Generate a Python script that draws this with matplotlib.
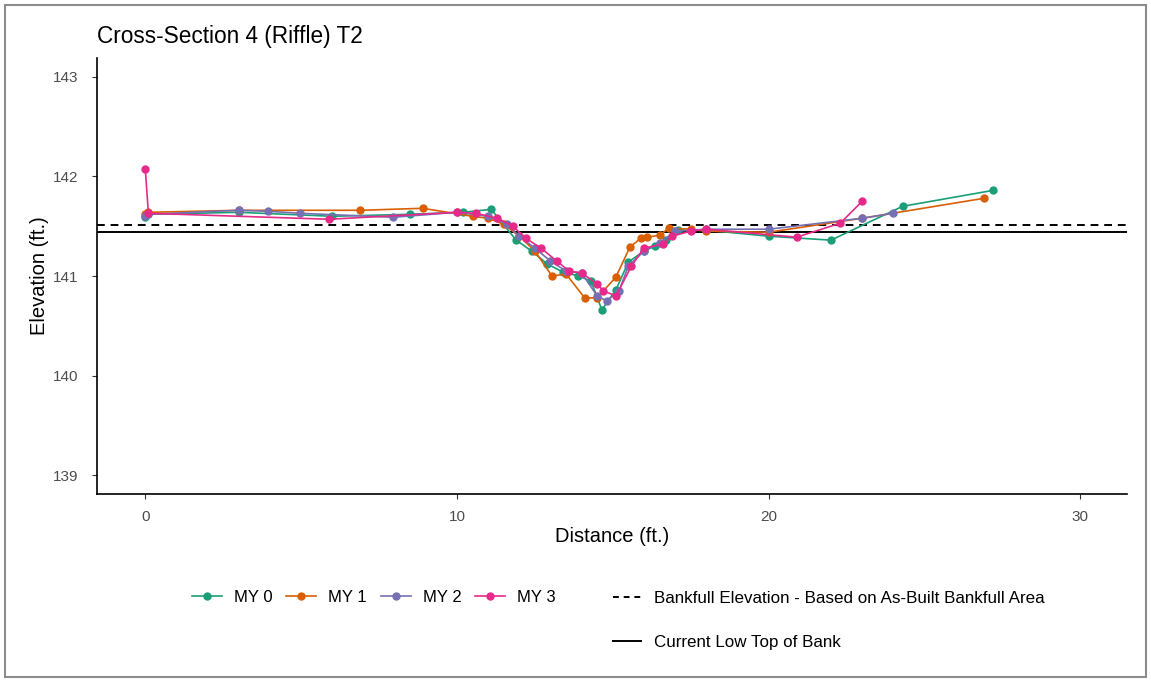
import matplotlib.pyplot as plt
from matplotlib.lines import Line2D
from matplotlib.patches import Rectangle

plt.rcParams['font.family'] = ['Liberation Sans', 'DejaVu Sans']

# Datos de las secciones (distancia en ft, elevación en ft)
my0_x = [0.0, 0.1, 3.0, 6.0, 8.5, 10.2, 11.1, 11.9, 12.4, 12.9, 13.4, 13.9, 14.3, 14.65, 15.1, 15.5, 16.0, 16.35, 16.7, 17.1, 18.0, 20.0, 22.0, 24.3, 27.2]
my0_y = [141.59, 141.62, 141.64, 141.60, 141.62, 141.64, 141.67, 141.36, 141.25, 141.12, 141.04, 141.00, 140.95, 140.66, 140.86, 141.14, 141.25, 141.30, 141.36, 141.46, 141.46, 141.40, 141.36, 141.70, 141.86]

my1_x = [0.0, 0.1, 3.0, 6.9, 8.9, 10.5, 11.0, 11.5, 12.0, 12.5, 13.05, 13.5, 14.1, 14.5, 15.1, 15.55, 15.9, 16.1, 16.5, 16.8, 17.5, 18.0, 20.0, 23.0, 26.9]
my1_y = [141.62, 141.64, 141.66, 141.66, 141.68, 141.60, 141.58, 141.52, 141.40, 141.25, 141.00, 141.02, 140.78, 140.78, 140.99, 141.29, 141.38, 141.39, 141.41, 141.48, 141.47, 141.45, 141.44, 141.58, 141.78]

my2_x = [0.0, 0.1, 3.0, 3.95, 4.97, 7.95, 10.0, 11.0, 11.6, 12.0, 12.5, 13.0, 13.5, 14.0, 14.5, 14.8, 15.2, 15.5, 16.0, 16.5, 17.0, 18.0, 20.0, 23.0, 24.0]
my2_y = [141.60, 141.62, 141.66, 141.65, 141.63, 141.59, 141.64, 141.60, 141.52, 141.40, 141.28, 141.15, 141.05, 141.03, 140.80, 140.75, 140.85, 141.10, 141.25, 141.33, 141.45, 141.47, 141.47, 141.58, 141.63]

my3_x = [0.0, 0.1, 5.9, 10.0, 10.6, 11.3, 11.8, 12.2, 12.7, 13.2, 13.6, 14.0, 14.5, 14.7, 15.1, 15.6, 16.0, 16.6, 16.9, 17.5, 18.0, 20.9, 22.3, 23.0]
my3_y = [142.07, 141.63, 141.57, 141.64, 141.63, 141.58, 141.50, 141.38, 141.28, 141.15, 141.05, 141.03, 140.92, 140.85, 140.80, 141.10, 141.28, 141.32, 141.40, 141.45, 141.47, 141.39, 141.53, 141.75]

bankfull = 141.51
low_top_bank = 141.44

series = [
    ('MY 0', my0_x, my0_y, '#1B9E77'),
    ('MY 1', my1_x, my1_y, '#D95F02'),
    ('MY 2', my2_x, my2_y, '#7570B3'),
    ('MY 3', my3_x, my3_y, '#E7298A'),
]

fig = plt.figure(figsize=(11.51, 6.81), dpi=100)
ax = fig.add_axes([97 / 1151, 1 - 494 / 681, (1127 - 97) / 1151, (494 - 58) / 681])

ax.axhline(bankfull, color='black', linestyle=(0, (4, 3)), linewidth=1.4)
ax.axhline(low_top_bank, color='black', linestyle='-', linewidth=1.4)

for nombre, xs, ys, color in series:
    ax.plot(xs, ys, color=color, marker='o', markersize=5, linewidth=1.2)

ax.set_xlim(-1.55, 31.5)
ax.set_ylim(138.81, 143.19)
ax.set_xticks([0, 10, 20, 30])
ax.set_yticks([139, 140, 141, 142, 143])
ax.tick_params(labelsize=11, colors='#4D4D4D', length=3.5, width=0.8)
ax.tick_params(axis='both', color='#333333')
ax.tick_params(axis='y', pad=10)
ax.tick_params(axis='x', pad=8)
for lado in ['top', 'right']:
    ax.spines[lado].set_visible(False)
for lado in ['left', 'bottom']:
    ax.spines[lado].set_linewidth(1.2)

ax.set_xlabel('Distance (ft.)', fontsize=14.5, labelpad=2)
ax.set_ylabel('Elevation (ft.)', fontsize=14.5)
ax.yaxis.set_label_coords(-0.047, 0.5)
fig.text(97 / 1151, 1 - 36 / 681, 'Cross-Section 4 (Riffle) T2', fontsize=16.3, va='center', ha='left')

# Leyendas
h_series = [Line2D([], [], color=c, marker='o', markersize=5, linewidth=1.2) for _, _, _, c in series]
leg1 = fig.legend(h_series, [s[0] for s in series], loc='center left',
                  bbox_to_anchor=(177 / 1151, 1 - 597 / 681), ncol=4, frameon=False,
                  fontsize=12, handlelength=1.8, columnspacing=0.85, handletextpad=0.7)
h_lineas = [Line2D([], [], color='black', linestyle=(0, (3, 2.5)), linewidth=1.4),
            Line2D([], [], color='black', linestyle='-', linewidth=1.4)]
leg2 = fig.legend(h_lineas, ['Bankfull Elevation - Based on As-Built Bankfull Area', 'Current Low Top of Bank'],
                  loc='upper left', bbox_to_anchor=(598 / 1151, 1 - 576 / 681), ncol=1, frameon=False,
                  fontsize=12.25, handlelength=1.65, handletextpad=0.75, labelspacing=1.68)

fig.patches.append(Rectangle((5 / 1151, 4 / 681), 1141 / 1151, 672 / 681, transform=fig.transFigure,
                             fill=False, edgecolor='#8C8C8C', linewidth=1.5))

fig.savefig('out.png', dpi=100)
